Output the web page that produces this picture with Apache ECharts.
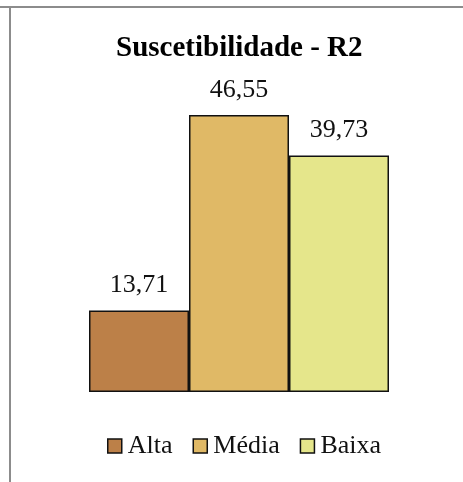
<!DOCTYPE html>
<html>
<head>
<meta charset="utf-8">
<script src="https://cdn.jsdelivr.net/npm/echarts@6/dist/echarts.min.js"></script>
<style>
	html, body { margin: 0; padding: 0; background: #fff; }
	#chart { width: 463px; height: 482px; }
</style>
</head>
<body>
<div id="chart"></div>
<script>
const title = "Suscetibilidade - R2";
const classes = ["Alta", "Média", "Baixa"];
const values = [13.71, 46.55, 39.73];
const colors = ["#BC8048", "#E0B966", "#E5E68B"];

const font = "'Liberation Serif', 'Times New Roman', serif";
const fmt = v => v.toFixed(2).replace(".", ",");

const chart = echarts.init(document.getElementById("chart"));

const series = classes.map((name, i) => {
	return {
		name,
		type: "bar",
		data: [values[i]],
		barGap: "0%",
		barCategoryGap: "0%",
		itemStyle: {
			color: colors[i],
			borderColor: "#111",
			borderWidth: 1.5
		},
		label: {
			show: true,
			position: "top",
			distance: 12,
			color: "#111",
			fontFamily: font,
			fontSize: 26,
			formatter: p => fmt(p.value)
		}
	};
});

chart.setOption({
	animation: false,
	backgroundColor: "#fff",
	title: {
		text: title,
		left: 111,
		top: 29,
		textStyle: {
			fontFamily: font,
			fontWeight: "bold",
			fontSize: 29,
			color: "#000"
		}
	},
	legend: {
		bottom: 18,
		left: 102,
		itemWidth: 14,
		itemHeight: 14,
		itemGap: 20,
		icon: "rect",
		itemStyle: {
			borderColor: "#111",
			borderWidth: 1.5
		},
		textStyle: {
			fontFamily: font,
			fontSize: 26,
			color: "#111",
			padding: [0, 0, 0, 1]
		},
		data: classes
	},
	grid: {
		left: 89,
		right: 74,
		top: 94.5,
		bottom: 90
	},
	xAxis: {
		type: "category",
		data: ["R2"],
		axisLine: { show: false },
		axisTick: { show: false },
		axisLabel: { show: false }
	},
	yAxis: {
		type: "value",
		min: 0,
		max: 50,
		show: false,
		splitLine: { show: false }
	},
	graphic: [
		{
			type: "line",
			shape: { x1: 0, y1: 7, x2: 463, y2: 7 },
			style: { stroke: "#8c8c8c", lineWidth: 2 }
		},
		{
			type: "line",
			shape: { x1: 10, y1: 7, x2: 10, y2: 482 },
			style: { stroke: "#8c8c8c", lineWidth: 2 }
		}
	],
	series
});
</script>
</body>
</html>
